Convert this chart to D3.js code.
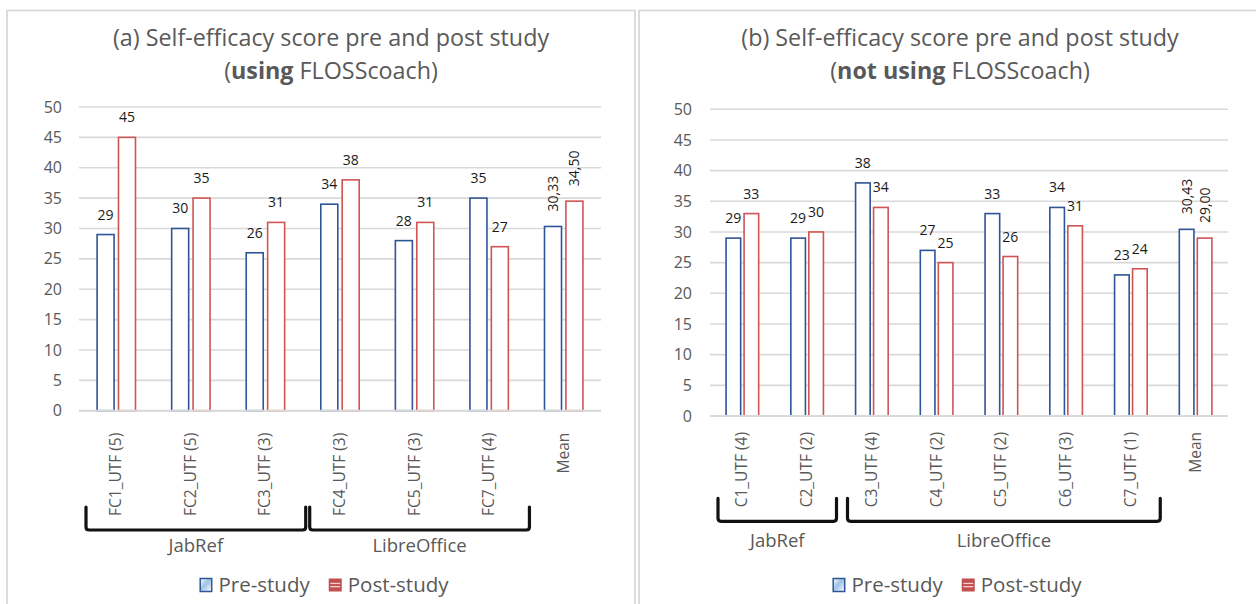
<!DOCTYPE html>
<html>
<head>
<meta charset="utf-8">
<script src="https://cdnjs.cloudflare.com/ajax/libs/d3/7.8.5/d3.min.js"></script>
<style>
  html, body { margin: 0; padding: 0; background: #ffffff; }
  svg { display: block; font-family: "Open Sans", "Noto Sans", sans-serif; }
</style>
</head>
<body>
<svg id="chart" width="1256" height="604"></svg>
<script>
// ---- data ----
const yTicks = [0, 5, 10, 15, 20, 25, 30, 35, 40, 45, 50];

const catsA = ["FC1_UTF (5)", "FC2_UTF (5)", "FC3_UTF (3)", "FC4_UTF (3)", "FC5_UTF (3)", "FC7_UTF (4)", "Mean"];
const preA  = [29, 30, 26, 34, 28, 35, 30.33];
const postA = [45, 35, 31, 38, 31, 27, 34.50];
const groupsA = [
  { name: "JabRef", first: "FC1_UTF (5)", last: "FC3_UTF (3)" },
  { name: "LibreOffice", first: "FC4_UTF (3)", last: "FC7_UTF (4)" }
];

const catsB = ["C1_UTF (4)", "C2_UTF (2)", "C3_UTF (4)", "C4_UTF (2)", "C5_UTF (2)", "C6_UTF (3)", "C7_UTF (1)", "Mean"];
const preB  = [29, 29, 38, 27, 33, 34, 23, 30.43];
const postB = [33, 30, 34, 25, 26, 31, 24, 29.00];
const groupsB = [
  { name: "JabRef", first: "C1_UTF (4)", last: "C2_UTF (2)" },
  { name: "LibreOffice", first: "C3_UTF (4)", last: "C7_UTF (1)" }
];

const seriesNames = ["Pre-study", "Post-study"];

// ---- styling ----
const C = {
  pre: "#2f5597",
  post: "#d05454",
  grid: "#d9d9d9",
  frame: "#d9d9d9",
  text: "#595959",
  label: "#1a1a1a"
};

const svg = d3.select("#chart");
const defs = svg.append("defs");

// legend swatch fill for the pre-study series
const gPre = defs.append("linearGradient").attr("id", "preFill")
  .attr("x1", "0").attr("y1", "0").attr("x2", "1").attr("y2", "1");
gPre.append("stop").attr("offset", "0").attr("stop-color", "#ffffff");
gPre.append("stop").attr("offset", "0.45").attr("stop-color", "#9dc3e6");
gPre.append("stop").attr("offset", "1").attr("stop-color", "#ffffff");

const fmtInt = d3.format("d");
const fmtMean = v => d3.format(".2f")(v).replace(".", ",");

function drawPanel(cfg) {
  const g = svg.append("g");

  // panel frame
  g.append("rect")
    .attr("x", cfg.frame[0]).attr("y", cfg.frame[1])
    .attr("width", cfg.frame[2]).attr("height", cfg.frame[3])
    .attr("fill", "none").attr("stroke", C.frame).attr("stroke-width", 1.8);

  // title
  const t = g.append("text").attr("text-anchor", "middle")
    .attr("fill", C.text).attr("font-size", cfg.titleSize);
  t.append("tspan").attr("x", cfg.titleX).attr("y", cfg.titleY1).text(cfg.title1);
  const l2 = t.append("tspan").attr("x", cfg.titleX).attr("y", cfg.titleY2);
  l2.append("tspan").text("(");
  l2.append("tspan").attr("font-weight", "bold").text(cfg.titleBold);
  l2.append("tspan").text(" FLOSScoach)");

  const x = d3.scaleBand().domain(cfg.cats).range([cfg.x0, cfg.x1]).padding(0);
  const y = d3.scaleLinear().domain([0, 50]).range([cfg.yBot, cfg.yTop]);

  // gridlines
  g.append("g").selectAll("line").data(yTicks).join("line")
    .attr("x1", cfg.x0).attr("x2", cfg.x1)
    .attr("y1", d => y(d)).attr("y2", d => y(d))
    .attr("stroke", C.grid).attr("stroke-width", 1.6);

  // y axis labels
  const ya = g.append("g").attr("transform", `translate(${cfg.tickRight},0)`)
    .call(d3.axisLeft(y).tickValues(yTicks).tickSize(0).tickPadding(0));
  ya.select(".domain").remove();
  ya.selectAll("text").attr("fill", C.text).attr("font-size", 16)
    .attr("font-family", "Open Sans, sans-serif");

  const rows = cfg.cats.map((c, i) => ({ cat: c, pre: cfg.pre[i], post: cfg.post[i], mean: c === "Mean" }));
  const cx = (d, s) => x(d.cat) + x.bandwidth() / 2 + (s === "pre" ? -cfg.barOff : cfg.barOff);

  // bars
  ["pre", "post"].forEach(s => {
    g.append("g").selectAll("rect").data(rows).join("rect")
      .attr("x", d => cx(d, s) - cfg.barW / 2)
      .attr("y", d => y(d[s]))
      .attr("width", cfg.barW)
      .attr("height", d => y(0) - y(d[s]))
      .attr("fill", "#ffffff")
      .attr("stroke", C[s]).attr("stroke-width", 1.6);
  });

  // baseline over bar bottoms
  g.append("line").attr("x1", cfg.x0).attr("x2", cfg.x1)
    .attr("y1", y(0)).attr("y2", y(0))
    .attr("stroke", C.grid).attr("stroke-width", 2);

  // value labels
  ["pre", "post"].forEach(s => {
    const lab = g.append("g").selectAll("text").data(rows).join("text")
      .attr("fill", C.label).attr("font-size", 14);
    lab.filter(d => !d.mean)
      .attr("text-anchor", "middle")
      .attr("x", d => cx(d, s)).attr("y", d => y(d[s]) - 15)
      .text(d => fmtInt(d[s]));
    lab.filter(d => d.mean)
      .attr("text-anchor", "start")
      .attr("transform", d => `translate(${cx(d, s) + 5},${y(d[s]) - 15}) rotate(-90)`)
      .text(d => fmtMean(d[s]));
  });

  // category labels
  const xa = g.append("g").attr("transform", `translate(0,${cfg.yBot})`)
    .call(d3.axisBottom(x).tickSize(0).tickPadding(0));
  xa.select(".domain").remove();
  xa.selectAll("text")
    .attr("y", 0).attr("dy", 0).attr("x", 0)
    .attr("text-anchor", "end")
    .attr("transform", `translate(5,${cfg.catGap}) rotate(-90)`)
    .attr("fill", C.text).attr("font-size", 15.5)
    .attr("font-family", "Open Sans, sans-serif");

  // group brackets under the category labels
  let maxBottom = 0;
  xa.selectAll("text").each(function () {
    const b = this.getBoundingClientRect();
    maxBottom = Math.max(maxBottom, b.bottom);
  });
  const bTop = maxBottom - 9, bBot = bTop + 23, r = 3;
  cfg.groups.forEach(gr => {
    const xs = x(gr.first) + cfg.bIn, xe = x(gr.last) + x.bandwidth() - cfg.bOut;
    g.append("path")
      .attr("d", `M${xs},${bTop} L${xs},${bBot - r} Q${xs},${bBot} ${xs + r},${bBot} L${xe - r},${bBot} Q${xe},${bBot} ${xe},${bBot - r} L${xe},${bTop}`)
      .attr("fill", "none").attr("stroke", "#111").attr("stroke-width", 3.2)
      .attr("stroke-linecap", "round").attr("stroke-linejoin", "round");
    g.append("text").attr("text-anchor", "middle")
      .attr("x", (xs + xe) / 2).attr("y", bBot + cfg.groupDy)
      .attr("fill", C.text).attr("font-size", 18.5).text(gr.name);
  });

  // legend
  const lg = g.append("g");
  const sw = 13, gapIcon = 6, gapItem = 19;
  const items = seriesNames.map((n, i) => {
    const it = lg.append("g");
    if (i === 0) {
      it.append("rect").attr("x", 0.75).attr("y", -sw / 2).attr("width", sw - 1.5).attr("height", sw)
        .attr("fill", "url(#preFill)").attr("stroke", C.pre).attr("stroke-width", 1.5);
    } else {
      it.append("rect").attr("x", 0).attr("y", -sw / 2).attr("width", sw).attr("height", sw)
        .attr("fill", "#c0504d");
      [-1.6, 1.6].forEach(dy => it.append("rect").attr("x", 1.6).attr("y", dy - 0.6)
        .attr("width", sw - 3.2).attr("height", 1.3).attr("fill", "#f4d0cf"));
    }
    const tx = it.append("text").attr("x", sw + gapIcon).attr("y", 0).attr("dy", "0.35em")
      .attr("fill", C.text).attr("font-size", 20.5).text(n);
    return { it, w: sw + gapIcon + tx.node().getComputedTextLength() };
  });
  const total = d3.sum(items, d => d.w) + gapItem;
  let xpos = cfg.legendX - total / 2;
  items.forEach(d => { d.it.attr("transform", `translate(${xpos},${cfg.legendY})`); xpos += d.w + gapItem; });
}

drawPanel({
  frame: [7, 10.5, 628, 620],
  title1: "(a) Self-efficacy score pre and post study", titleBold: "using",
  titleX: 331, titleY1: 46, titleY2: 79, titleSize: 23.3,
  cats: catsA, pre: preA, post: postA, groups: groupsA,
  x0: 79, x1: 601, yTop: 107, yBot: 410.7, tickRight: 62,
  barW: 17, barOff: 10.7, catGap: 22, bIn: 7, bOut: -3, groupDy: 22,
  legendX: 324, legendY: 585
});

drawPanel({
  frame: [639, 10.5, 640, 620],
  title1: "(b) Self-efficacy score pre and post study", titleBold: "not using",
  titleX: 960, titleY1: 46, titleY2: 79, titleSize: 23.3,
  cats: catsB, pre: preB, post: postB, groups: groupsB,
  x0: 710, x1: 1228, yTop: 109.3, yBot: 416, tickRight: 692,
  barW: 14.6, barOff: 9, catGap: 16, bIn: 8, bOut: 3, groupDy: 26,
  legendX: 957, legendY: 585
});
</script>
</body>
</html>
